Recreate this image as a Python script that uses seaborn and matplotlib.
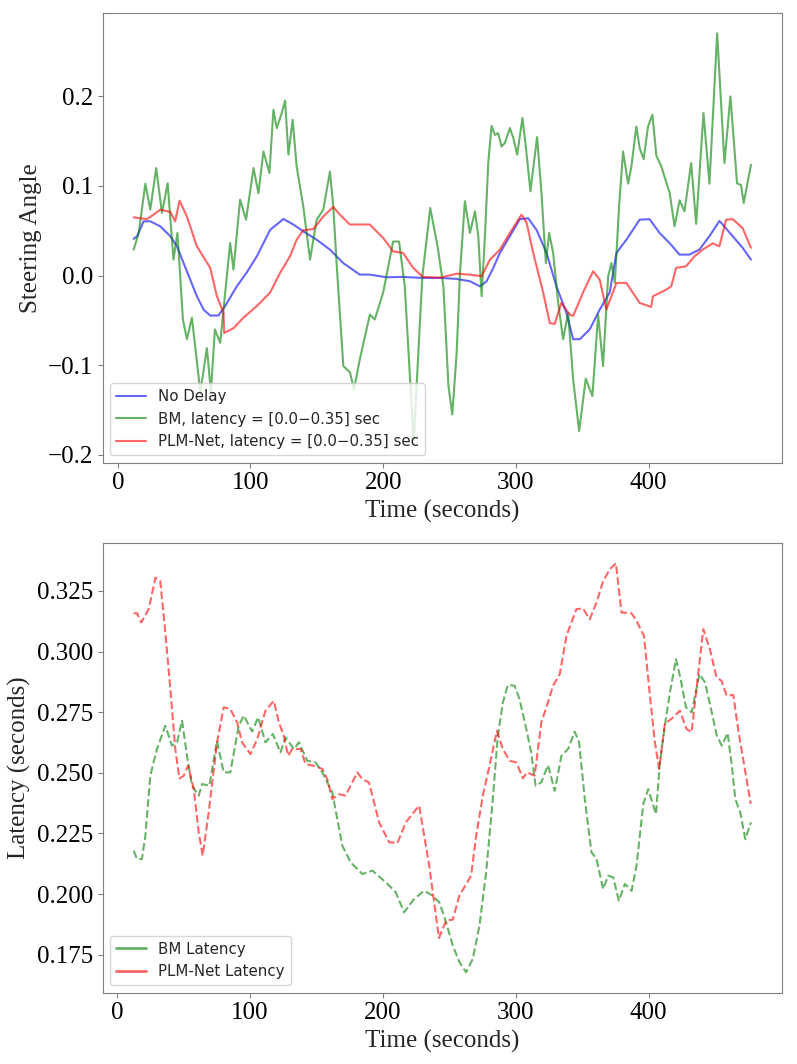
"""
Steering angle and latency over time: No Delay vs BM vs PLM-Net.
"""

import matplotlib
matplotlib.use("Agg")
import matplotlib.pyplot as plt
from matplotlib.lines import Line2D
import seaborn as sns


# ──────────────────────────────────────────────
# Data
# ──────────────────────────────────────────────

# steering angle, no delay
nd_time = [12, 14.6, 19.5, 24.5, 32, 39.6, 44.6, 49.6, 54.6, 59.6, 64.7, 69.7,
           75.9, 80.9, 89.7, 97, 104.8, 114.8, 124.8, 132.3, 139.8, 149.9,
           159.9, 169.9, 182.4, 189.9, 202.5, 215, 230, 243, 255.4, 265.4,
           272.9, 278, 283, 288, 295.5, 303, 309.3, 315.6, 323.1, 330.6,
           338.1, 343.2, 348.2, 355.7, 363.2, 370.7, 375.8, 383.3, 393.3,
           400.8, 408.3, 415.8, 423.3, 430.8, 438.3, 445.9, 453.4, 455.9,
           463.4, 470.9, 477.2]
nd_angle = [0.041, 0.044, 0.0606, 0.0606, 0.055, 0.044, 0.0327, 0.014, -0.0045,
            -0.023, -0.038, -0.0446, -0.0446, -0.034, -0.012, 0.003, 0.0215,
            0.051, 0.0632, 0.057, 0.0494, 0.040, 0.029, 0.014, 0.0011, 0.0011,
            -0.0019, -0.0015, -0.0026, -0.0026, -0.0037, -0.0063, -0.012,
            -0.0063, 0.0086, 0.0253, 0.044, 0.063, 0.064, 0.051, 0.0253,
            -0.012, -0.0416, -0.071, -0.071, -0.060, -0.038, -0.019, 0.0253,
            0.040, 0.0624, 0.063, 0.0476, 0.0364, 0.0234, 0.0234, 0.029, 0.044,
            0.061, 0.057, 0.044, 0.031, 0.0178]

# steering angle, BM with latency
bm_time = [12, 15.8, 20.8, 24.5, 29, 33.3, 37.6, 42, 45, 49.1, 52.1, 55.9,
           62.2, 67.2, 70.2, 73.2, 77.2, 84.7, 87.2, 92.2, 96.7, 102.3, 106,
           109.8, 114.3, 117.3, 119.8, 123.6, 126.1, 128.6, 131.8, 134.8,
           139.8, 144.9, 149.9, 154.9, 159.9, 162.4, 164.9, 170, 175, 178,
           182.4, 190, 193.7, 200, 207.5, 212, 216.3, 223, 229.5, 235.5, 241,
           245.4, 249.2, 252.1, 255.4, 257.9, 261.6, 265.4, 269.2, 271.7,
           274.2, 276.7, 279.2, 281.7, 284.2, 286.7, 289.2, 291.7, 295.5, 298,
           301, 305, 307.5, 311, 316, 319.3, 322.6, 325.1, 328.1, 331.9,
           335.6, 339.4, 343.2, 347.7, 352.7, 357.7, 362, 365.7, 369.5, 372,
           374.6, 377.8, 380.8, 384.6, 387.1, 390.8, 393.3, 396.3, 399.6,
           402.9, 405.9, 409.6, 415.9, 419.6, 423.4, 427.1, 432.1, 435.9,
           441.4, 445.9, 451.7, 457.2, 461.7, 466.7, 469.7, 471.7, 477.2]
bm_angle = [0.029, 0.0476, 0.1026, 0.0736, 0.120, 0.070, 0.103, 0.0178, 0.0476,
            -0.049, -0.071, -0.047, -0.13, -0.081, -0.13, -0.060, -0.075,
            0.0364, 0.0067, 0.0847, 0.0624, 0.120, 0.092, 0.1386, 0.1145,
            0.185, 0.1646, 0.1814, 0.1954, 0.135, 0.174, 0.122, 0.0773,
            0.0178, 0.0624, 0.0736, 0.116, 0.0773, 0.014, -0.101, -0.108,
            -0.127, -0.0936, -0.0435, -0.049, -0.019, 0.038, 0.038, -0.012,
            -0.186, -0.0015, 0.0754, 0.0327, -0.012, -0.123, -0.155, -0.086,
            0.003, 0.083, 0.0476, 0.0717, 0.044, -0.023, 0.044, 0.1256, 0.167,
            0.157, 0.159, 0.144, 0.148, 0.1646, 0.154, 0.135, 0.1758, 0.144,
            0.094, 0.1546, 0.0922, 0.014, 0.0476, 0.0253, -0.0305, -0.071,
            -0.0416, -0.116, -0.1735, -0.115, -0.1345, -0.0435, -0.101,
            -0.0015, 0.014, -0.008, 0.0773, 0.1386, 0.1026, 0.122, 0.1663,
            0.1423, 0.130, 0.1663, 0.1795, 0.1338, 0.122, 0.0922, 0.055, 0.084,
            0.0717, 0.1256, 0.0577, 0.1814, 0.1026, 0.2705, 0.1256, 0.200,
            0.103, 0.101, 0.081, 0.1237]

# steering angle, PLM-Net with latency
plm_time = [12, 22, 27, 32, 39.6, 43.3, 46.6, 52.1, 59.6, 69.7, 74.7, 79.7,
            80.2, 87.2, 94.7, 104.8, 114.8, 122.3, 129.8, 134.8, 139.8, 147.4,
            154.9, 162.4, 167.4, 174.9, 189.9, 200, 207.5, 215, 222.6, 230,
            243, 255.4, 265.4, 274.2, 280.5, 288, 295.5, 304.3, 308.1, 313.1,
            320.6, 325.6, 329.3, 334.3, 340.6, 343.2, 350.6, 358.2, 363.2,
            368.2, 375.8, 383.3, 393.3, 402, 403.3, 413.3, 417.1, 420.8, 428.3,
            434.6, 440.8, 448.4, 453.4, 458.4, 463.4, 470.9, 477.2]
plm_angle = [0.065, 0.063, 0.068, 0.0736, 0.071, 0.0606, 0.0836, 0.066, 0.0327,
             0.0086, -0.023, -0.0416, -0.064, -0.0587, -0.047, -0.034, -0.019,
             0.003, 0.0215, 0.040, 0.0505, 0.052, 0.066, 0.0766, 0.068, 0.057,
             0.057, 0.042, 0.027, 0.0253, 0.0086, -0.0015, -0.0023, 0.0022,
             0.001, -0.0007, 0.0178, 0.029, 0.0476, 0.068, 0.059, 0.0253,
             -0.019, -0.053, -0.054, -0.0305, -0.0435, -0.045, -0.019, 0.0048,
             -0.0045, -0.038, -0.0082, -0.0082, -0.0305, -0.035, -0.0231,
             -0.0157, -0.012, 0.0086, 0.0104, 0.0215, 0.029, 0.036, 0.0327,
             0.0624, 0.063, 0.053, 0.031]

# latency, BM
bm_lat_time = [12.6, 15.1, 18.8, 21.4, 25.1, 30.1, 36.4, 41.4, 45.2, 49, 52.7,
               56.5, 61.5, 64, 69.5, 75.3, 80.3, 85.3, 91.6, 95.4, 101.7,
               106.2, 111.7, 117.3, 123, 126.8, 133.1, 136.9, 143.1, 149.4,
               154.5, 162, 169.5, 175.8, 184.6, 192.1, 202.2, 209.7, 216,
               223.5, 231.1, 237.4, 242.5, 247.6, 252.6, 257.6, 262.6, 267.7,
               272.7, 277.7, 282.7, 286.5, 290.3, 294, 299.1, 302.8, 307.9,
               311.6, 314.9, 319.2, 324.2, 329.3, 334.3, 339.3, 344.3, 347.6,
               351.9, 356.9, 360.7, 365.7, 369.5, 373.3, 377.5, 382.1, 387.1,
               390.8, 395.9, 399.6, 405.4, 408.4, 412.1, 415.9, 420.5, 424, 428,
               432.3, 438.1, 442.4, 447.4, 451.2, 455, 459.3, 462.5, 465.1,
               468.8, 472.6, 476.9]
bm_latency = [0.2179, 0.2145, 0.2145, 0.2241, 0.2488, 0.2598, 0.2694, 0.2612,
              0.2626, 0.2715, 0.257, 0.2447, 0.2406, 0.2454, 0.2447, 0.2632,
              0.2502, 0.2502, 0.2694, 0.2736, 0.267, 0.2729, 0.2626, 0.266,
              0.2584, 0.2646, 0.2598, 0.2626, 0.255, 0.2543, 0.2502, 0.2419,
              0.220, 0.2131, 0.2083, 0.2097, 0.2049, 0.2008, 0.1925, 0.198,
              0.2014, 0.1994, 0.1966, 0.1884, 0.1788, 0.172, 0.1678, 0.1734,
              0.1871, 0.209, 0.2392, 0.2653, 0.279, 0.2862, 0.2859, 0.2804,
              0.2681, 0.2584, 0.2447, 0.2461, 0.2532, 0.2426, 0.257, 0.2598,
              0.267, 0.2626, 0.2392, 0.2173, 0.2145, 0.2021, 0.2076, 0.2069,
              0.1973, 0.2042, 0.2014, 0.2117, 0.2371, 0.2433, 0.2330, 0.2543,
              0.2694, 0.2831, 0.2969, 0.2886, 0.277, 0.2749, 0.2907, 0.2872,
              0.2749, 0.2653, 0.2612, 0.2664, 0.2529, 0.2392, 0.2337, 0.2227,
              0.2296]

# latency, PLM-Net
plm_lat_time = [12.6, 15.1, 18.3, 23.9, 29, 32.6, 36.4, 40.2, 43.9, 47, 50.2,
                53.5, 57.8, 61.5, 64.5, 69, 75.3, 80.3, 85.3, 90.4, 94.1,
                100.4, 105.5, 111.7, 118, 121.8, 125.5, 128.8, 131.8, 138.1,
                141.9, 148.2, 154.5, 158.2, 162, 167, 172, 180.8, 184.6, 189.6,
                197.2, 204.7, 211, 217.3, 227.3, 234.9, 242.2, 247.6, 252.6,
                257.6, 266.4, 270.2, 275.2, 280.2, 285.8, 290.3, 295.3, 300.4,
                305.4, 308.4, 314.2, 319.2, 324.2, 328, 333.1, 338.1, 345.6,
                350.6, 355.6, 360.7, 365.7, 370.7, 375.3, 379.5, 387, 390.8,
                396.4, 400.9, 404.6, 407.8, 412.1, 418.4, 423.4, 428.4, 432.2,
                435.9, 441, 446, 451, 454.8, 458.6, 463.6, 467.4, 472.5, 476.7]
plm_latency = [0.3158, 0.3158, 0.312, 0.3175, 0.3305, 0.329, 0.3079, 0.2845,
               0.2598, 0.2477, 0.2488, 0.2529, 0.2433, 0.2255, 0.2159, 0.2337,
               0.2626, 0.277, 0.2763, 0.2708, 0.2626, 0.2577, 0.2639, 0.2756,
               0.2797, 0.2708, 0.2653, 0.257, 0.2598, 0.2598, 0.2536, 0.2529,
               0.2516, 0.2474, 0.2392, 0.2412, 0.2406, 0.2502, 0.2474, 0.246,
               0.2296, 0.2214, 0.2211, 0.2296, 0.2365, 0.2117, 0.1819, 0.1891,
               0.1895, 0.1994, 0.2076, 0.2241, 0.2406, 0.2529, 0.2673, 0.2598,
               0.255, 0.2543, 0.2477, 0.2502, 0.2488, 0.2708, 0.279, 0.2859,
               0.2907, 0.3065, 0.3175, 0.3177, 0.3133, 0.3202, 0.3291, 0.3339,
               0.3364, 0.3161, 0.3158, 0.3126, 0.3065, 0.2818, 0.2626, 0.2516,
               0.2701, 0.2729, 0.2756, 0.2681, 0.2667, 0.2845, 0.3092, 0.301,
               0.2893, 0.2879, 0.2818, 0.2821, 0.2673, 0.2509, 0.2372]


# ──────────────────────────────────────────────
# Styling
# ──────────────────────────────────────────────

sns.set_style("ticks", {"axes.edgecolor": "#7f7f7f",
                        "xtick.color": "#7f7f7f", "ytick.color": "#7f7f7f"})
plt.rcParams["font.family"] = ["Liberation Serif", "DejaVu Serif"]
plt.rcParams["xtick.labelcolor"] = "black"
plt.rcParams["ytick.labelcolor"] = "black"

BLUE, GREEN, RED = "blue", "green", "red"
LEGEND_FONT = {"family": "DejaVu Sans", "size": 10.8}

fig, (ax1, ax2) = plt.subplots(2, 1, figsize=(7.97, 10.64), dpi=100)
fig.subplots_adjust(left=0.129, right=0.981, top=0.988, bottom=0.067, hspace=0.178)

# ──────────────────────────────────────────────
# Top: steering angle
# ──────────────────────────────────────────────

sns.lineplot(x=nd_time, y=nd_angle, ax=ax1, color=BLUE, alpha=0.6, lw=1.5,
             label="No Delay", estimator=None)
sns.lineplot(x=bm_time, y=bm_angle, ax=ax1, color=GREEN, alpha=0.6, lw=1.5,
             label="BM, latency = [0.0\u22120.35] sec", estimator=None)
sns.lineplot(x=plm_time, y=plm_angle, ax=ax1, color=RED, alpha=0.6, lw=1.5,
             label="PLM-Net, latency = [0.0\u22120.35] sec", estimator=None)

ax1.set_xlabel("Time (seconds)", fontsize=18)
ax1.set_ylabel("Steering Angle", fontsize=18)
ax1.set_yticks([-0.2, -0.1, 0.0, 0.1, 0.2])
ax1.set_yticklabels(["\u22120.2", "\u22120.1", "0.0", "0.1", "0.2"])
ax1.legend(loc="lower left", prop=LEGEND_FONT, frameon=True, framealpha=0.8)

# ──────────────────────────────────────────────
# Bottom: latency
# ──────────────────────────────────────────────

sns.lineplot(x=bm_lat_time, y=bm_latency, ax=ax2, color=GREEN, alpha=0.6,
             lw=1.5, ls="--", estimator=None)
sns.lineplot(x=plm_lat_time, y=plm_latency, ax=ax2, color=RED, alpha=0.6,
             lw=1.5, ls="--", estimator=None)

ax2.set_xlabel("Time (seconds)", fontsize=18)
ax2.set_ylabel("Latency (seconds)", fontsize=18)
handles = [Line2D([], [], color=GREEN, alpha=0.6, lw=2),
           Line2D([], [], color=RED, alpha=0.6, lw=2)]
ax2.legend(handles, ["BM Latency", "PLM-Net Latency"], loc="lower left",
           prop=LEGEND_FONT, frameon=True, framealpha=0.8)

for ax in (ax1, ax2):
    ax.set_xticks([0, 100, 200, 300, 400])
    ax.tick_params(labelsize=18)

fig.savefig("out.png", dpi=100)
